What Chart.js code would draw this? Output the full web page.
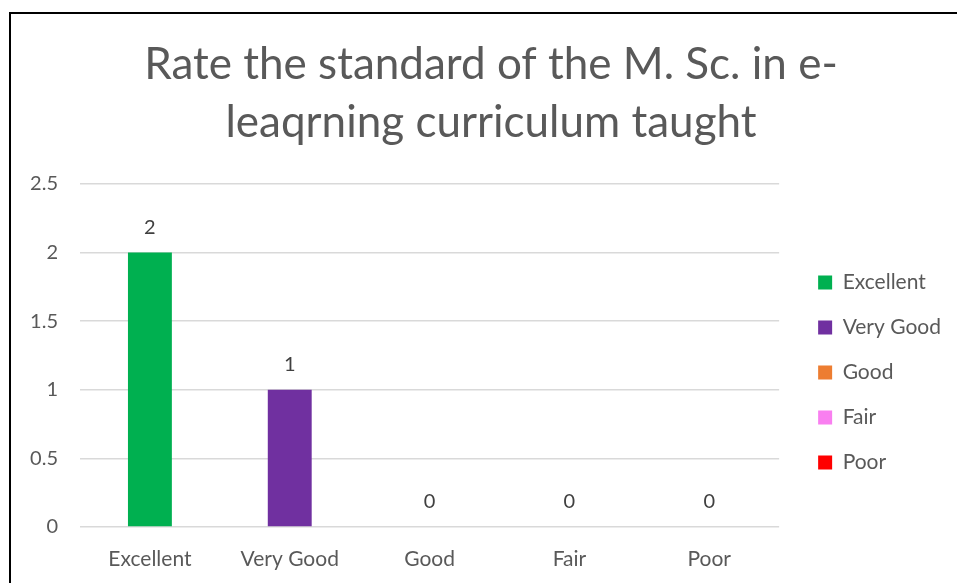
<!DOCTYPE html>
<html>
<head>
<meta charset="utf-8">
<script src="https://cdn.jsdelivr.net/npm/chart.js@4.4.1/dist/chart.umd.min.js"></script>
<style>
  html, body { margin: 0; padding: 0; overflow: hidden; background: #fff; }
  #box {
    position: absolute; left: 9px; top: 12px;
    width: 962px; height: 569px;
    border-left: 2px solid #000; border-top: 2px solid #000;
  }
</style>
</head>
<body>
<div id="box"><canvas id="grafica"></canvas></div>
<script>
var categorias = ['Excellent', 'Very Good', 'Good', 'Fair', 'Poor'];
var valores = [2, 1, 0, 0, 0];
var colores = ['#00b050', '#7030a0', '#ed7d31', '#f97ff0', '#ff0000'];
var marcasY = [0, 0.5, 1, 1.5, 2, 2.5];
var titulo = ['Rate the standard of the M. Sc. in e-', 'leaqrning curriculum taught'];

var fuente = 'Lato, "Open Sans", sans-serif';
var gris = '#595959';

// numeros encima de cada barra
var etiquetas = {
    id: 'etiquetas',
    afterDatasetsDraw: function (chart) {
        var ctx = chart.ctx;
        var meta = chart.getDatasetMeta(0);
        ctx.save();
        ctx.font = '20px ' + fuente;
        ctx.fillStyle = '#404040';
        ctx.textAlign = 'center';
        ctx.textBaseline = 'middle';
        meta.data.forEach(function (barra, i) {
            ctx.fillText(String(valores[i]), barra.x, barra.y - 25);
        });
        ctx.restore();
    }
};

// separa la leyenda del area de dibujo y centra el titulo en todo el recuadro
var ajustes = {
    id: 'ajustes',
    afterLayout: function (chart) {
        chart.legend.left += 15;
        chart.legend.right += 15;
        chart.legend.top += 74;
        chart.legend.bottom += 74;
        chart.titleBlock.left += 17.5;
        chart.titleBlock.right += 17.5;
    }
};

var ctx = document.getElementById('grafica').getContext('2d');
var grafica = new Chart(ctx, {
    type: 'bar',
    data: {
        labels: categorias,
        datasets: [{
            label: 'Valor',
            data: valores,
            backgroundColor: colores,
            borderWidth: 0,
            barPercentage: 0.314,
            categoryPercentage: 1
        }]
    },
    options: {
        responsive: true,
        maintainAspectRatio: false,
        animation: false,
        layout: { padding: { left: 0, right: 37, top: 0, bottom: 0 } },
        plugins: {
            title: {
                display: true,
                text: titulo,
                color: gris,
                font: { family: fuente, size: 44, weight: 'normal', lineHeight: '58px' },
                padding: { top: 22, bottom: 32 }
            },
            legend: {
                position: 'right',
                labels: {
                    color: gris,
                    font: { family: fuente, size: 21 },
                    boxWidth: 14,
                    boxHeight: 14,
                    padding: 24,
                    generateLabels: function (chart) {
                        return categorias.map(function (c, i) {
                            return { text: c, fillStyle: colores[i], strokeStyle: colores[i], fontColor: gris, lineWidth: 0, index: i };
                        });
                    }
                },
                onClick: null
            },
            tooltip: { enabled: false }
        },
        scales: {
            x: {
                grid: { display: false },
                border: { display: false },
                ticks: { color: gris, font: { family: fuente, size: 21 }, padding: 12 },
                afterFit: function (escala) { escala.height = 56; }
            },
            y: {
                min: 0,
                max: 2.5,
                afterBuildTicks: function (escala) {
                    escala.ticks = marcasY.map(function (v) { return { value: v }; });
                },
                grid: { color: '#d9d9d9', lineWidth: 1.5, drawTicks: false },
                border: { display: false },
                ticks: {
                    color: gris,
                    font: { family: fuente, size: 20 },
                    padding: 22,
                    callback: function (v) { return String(v); }
                },
                afterFit: function (escala) { escala.width = 69; }
            }
        }
    },
    plugins: [etiquetas, ajustes]
});
</script>
</body>
</html>
